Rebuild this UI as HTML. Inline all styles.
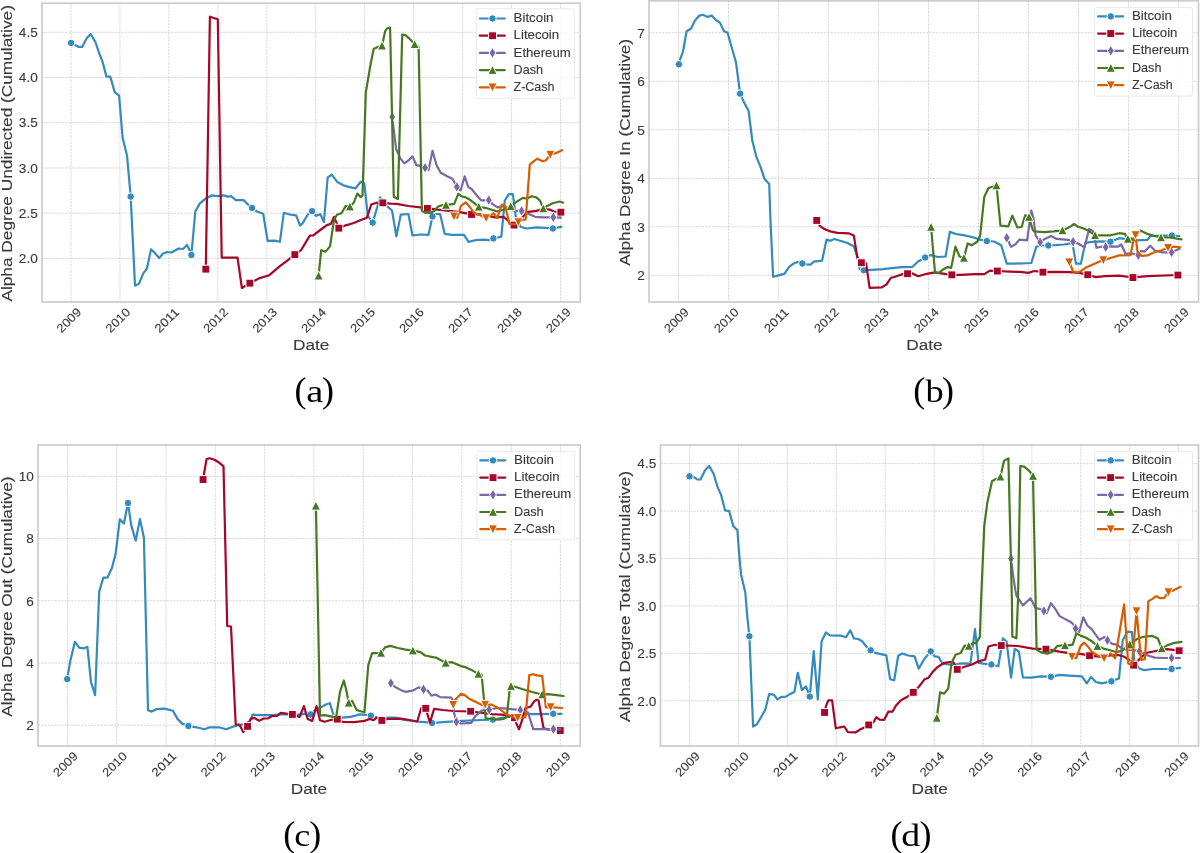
<!DOCTYPE html>
<html><head><meta charset="utf-8"><style>
html,body{margin:0;padding:0;background:#fff;width:1200px;height:853px;overflow:hidden}
svg{display:block;will-change:transform}
.g{stroke:#d4d4d4;stroke-width:0.9;stroke-dasharray:2.3 1}
.t,.xt{font-family:"Liberation Sans", sans-serif;fill:#3a3a3a;stroke:#3a3a3a;stroke-width:0.12}
.t{font-size:13.09px}
.xt{font-size:12.08px}
.l{font-family:"Liberation Sans", sans-serif;font-size:15.25px;fill:#3a3a3a;stroke:#3a3a3a;stroke-width:0.12}
.lg{font-family:"Liberation Sans", sans-serif;font-size:12.57px;fill:#3a3a3a;stroke:#3a3a3a;stroke-width:0.12}
.c{font-family:"Liberation Serif", serif;font-size:36px;fill:#000}
</style></head><body>
<svg width="1200" height="853" viewBox="0 0 1200 853">
<rect width="1200" height="853" fill="#fff"/>
<rect x="42" y="3.2" width="538.25" height="298.80" fill="#fff"/>
<line x1="71.00" y1="3.2" x2="71.00" y2="302" class="g"/>
<line x1="119.92" y1="3.2" x2="119.92" y2="302" class="g"/>
<line x1="168.85" y1="3.2" x2="168.85" y2="302" class="g"/>
<line x1="217.77" y1="3.2" x2="217.77" y2="302" class="g"/>
<line x1="266.83" y1="3.2" x2="266.83" y2="302" class="g"/>
<line x1="315.75" y1="3.2" x2="315.75" y2="302" class="g"/>
<line x1="364.67" y1="3.2" x2="364.67" y2="302" class="g"/>
<line x1="413.60" y1="3.2" x2="413.60" y2="302" class="g"/>
<line x1="462.65" y1="3.2" x2="462.65" y2="302" class="g"/>
<line x1="511.58" y1="3.2" x2="511.58" y2="302" class="g"/>
<line x1="560.50" y1="3.2" x2="560.50" y2="302" class="g"/>
<line x1="42" y1="258.40" x2="580.25" y2="258.40" class="g"/>
<line x1="42" y1="213.18" x2="580.25" y2="213.18" class="g"/>
<line x1="42" y1="167.96" x2="580.25" y2="167.96" class="g"/>
<line x1="42" y1="122.74" x2="580.25" y2="122.74" class="g"/>
<line x1="42" y1="77.52" x2="580.25" y2="77.52" class="g"/>
<line x1="42" y1="32.30" x2="580.25" y2="32.30" class="g"/>
<polyline points="71.1,42.9 76.0,45.5 78.7,46.9 82.2,46.9 86.6,38.5 90.6,34.1 95.4,42.0 98.9,52.5 102.4,61.3 106.5,76.6 110.3,76.6 114.7,92.1 119.1,95.6 122.6,137.8 127.0,155.4 130.7,196.6 135.0,285.7 139.0,283.6 143.4,273.1 146.9,268.7 151.0,249.3 154.8,252.9 159.2,258.1 162.8,253.7 167.1,252.0 171.5,252.5 178.6,248.5 183.0,249.0 187.0,245.0 190.0,251.1 191.4,255.0 195.3,211.5 199.7,203.6 205.8,198.4 211.6,195.4 217.3,196.2 223.4,195.4 227.8,196.6 231.3,196.2 235.7,200.1 243.6,200.1 248.0,204.5 252.1,208.0 257.0,211.5 263.2,213.7 267.6,240.9 274.6,240.6 279.9,241.8 283.8,212.8 289.6,214.5 296.1,215.4 300.1,225.6 302.8,223.0 308.0,214.2 312.1,211.2 315.9,215.9 320.3,214.2 323.9,222.1 327.7,177.3 331.8,174.6 337.0,181.7 343.2,185.2 348.5,186.9 355.5,188.3 360.8,181.7 364.3,183.4 367.8,215.9 372.7,222.6 380.1,197.5 387.2,206.3 392.0,210.5 396.4,236.3 400.8,214.6 408.4,214.0 412.5,235.5 420.2,234.5 428.4,234.9 432.5,216.4 435.4,214.0 440.1,214.0 444.7,233.8 451.7,234.9 463.9,234.9 468.6,241.9 475.0,240.2 484.3,239.6 489.0,240.2 493.4,238.4 498.3,237.3 501.3,236.7 504.8,200.5 508.8,194.1 512.9,194.1 515.8,216.8 520.5,226.8 526.3,228.5 536.8,227.3 545.0,227.9 552.9,228.5 561.3,226.8" fill="none" stroke="#348ABD" stroke-width="2.2" stroke-linejoin="round" stroke-linecap="round"/>
<circle cx="71.1" cy="42.9" r="3.75" fill="#348ABD" stroke="#fff" stroke-width="1"/>
<circle cx="130.7" cy="196.6" r="3.75" fill="#348ABD" stroke="#fff" stroke-width="1"/>
<circle cx="191.4" cy="255.0" r="3.75" fill="#348ABD" stroke="#fff" stroke-width="1"/>
<circle cx="252.1" cy="208.0" r="3.75" fill="#348ABD" stroke="#fff" stroke-width="1"/>
<circle cx="312.1" cy="211.2" r="3.75" fill="#348ABD" stroke="#fff" stroke-width="1"/>
<circle cx="372.7" cy="222.6" r="3.75" fill="#348ABD" stroke="#fff" stroke-width="1"/>
<circle cx="432.5" cy="216.4" r="3.75" fill="#348ABD" stroke="#fff" stroke-width="1"/>
<circle cx="493.4" cy="238.4" r="3.75" fill="#348ABD" stroke="#fff" stroke-width="1"/>
<circle cx="552.9" cy="228.5" r="3.75" fill="#348ABD" stroke="#fff" stroke-width="1"/>
<polyline points="205.8,269.2 209.9,16.7 217.8,19.3 221.7,257.6 237.5,257.6 241.9,288.0 249.8,283.1 258.8,278.4 269.3,275.2 279.9,266.1 286.9,260.8 294.8,254.6 301.0,250.2 309.8,235.6 313.3,235.3 320.3,230.0 326.5,225.3 330.9,223.9 334.1,216.8 338.8,228.2 345.0,225.6 353.7,223.0 359.0,220.7 366.9,217.7 371.3,204.5 376.6,202.8 382.8,202.8 390.7,203.6 396.7,203.9 408.4,206.0 420.2,207.4 427.4,208.3 437.8,209.7 449.5,210.9 461.2,212.3 471.5,214.4 480.0,214.4 487.0,215.6 495.2,217.3 503.4,216.8 509.3,221.4 514.0,225.0 519.9,220.3 526.9,212.1 536.3,210.9 543.3,209.1 550.3,209.7 553.9,211.5 560.9,212.1" fill="none" stroke="#A60628" stroke-width="2.2" stroke-linejoin="round" stroke-linecap="round"/>
<rect x="201.9" y="265.2" width="7.9" height="7.9" fill="#A60628" stroke="#fff" stroke-width="1"/>
<rect x="245.9" y="279.2" width="7.9" height="7.9" fill="#A60628" stroke="#fff" stroke-width="1"/>
<rect x="290.9" y="250.7" width="7.9" height="7.9" fill="#A60628" stroke="#fff" stroke-width="1"/>
<rect x="334.9" y="224.2" width="7.9" height="7.9" fill="#A60628" stroke="#fff" stroke-width="1"/>
<rect x="378.9" y="198.9" width="7.9" height="7.9" fill="#A60628" stroke="#fff" stroke-width="1"/>
<rect x="423.4" y="204.4" width="7.9" height="7.9" fill="#A60628" stroke="#fff" stroke-width="1"/>
<rect x="467.6" y="210.5" width="7.9" height="7.9" fill="#A60628" stroke="#fff" stroke-width="1"/>
<rect x="510.1" y="221.1" width="7.9" height="7.9" fill="#A60628" stroke="#fff" stroke-width="1"/>
<rect x="556.9" y="208.2" width="7.9" height="7.9" fill="#A60628" stroke="#fff" stroke-width="1"/>
<polyline points="392.2,116.9 396.1,148.8 400.2,158.1 404.3,163.4 408.4,160.5 412.5,156.4 416.4,165.2 420.2,165.8 425.1,167.7 428.6,169.9 432.5,150.9 436.6,165.2 440.7,172.8 447.1,176.3 452.4,178.7 456.9,186.9 460.6,190.4 464.7,176.3 468.2,186.9 471.8,189.2 476.4,195.1 481.1,200.3 483.5,200.3 488.8,200.1 492.9,204.4 497.6,207.4 503.4,206.2 510.5,209.7 515.2,210.9 521.6,210.9 526.9,213.2 535.1,216.8 543.3,217.3 553.3,217.3 560.9,217.7" fill="none" stroke="#7A68A6" stroke-width="2.2" stroke-linejoin="round" stroke-linecap="round"/>
<polygon points="392.2,111.4 395.6,116.9 392.2,122.4 388.8,116.9" fill="#7A68A6" stroke="#fff" stroke-width="1"/>
<polygon points="425.1,162.2 428.5,167.7 425.1,173.2 421.7,167.7" fill="#7A68A6" stroke="#fff" stroke-width="1"/>
<polygon points="456.9,181.4 460.3,186.9 456.9,192.4 453.5,186.9" fill="#7A68A6" stroke="#fff" stroke-width="1"/>
<polygon points="488.8,194.6 492.2,200.1 488.8,205.6 485.4,200.1" fill="#7A68A6" stroke="#fff" stroke-width="1"/>
<polygon points="521.6,205.4 525.0,210.9 521.6,216.4 518.2,210.9" fill="#7A68A6" stroke="#fff" stroke-width="1"/>
<polygon points="553.3,211.8 556.7,217.3 553.3,222.8 549.9,217.3" fill="#7A68A6" stroke="#fff" stroke-width="1"/>
<polyline points="318.6,275.7 321.2,250.2 325.6,251.6 330.0,246.4 334.1,219.5 337.0,214.7 341.4,213.3 345.8,205.9 349.9,206.6 353.7,202.8 357.3,193.6 360.8,197.1 362.5,195.7 365.8,92.6 370.2,66.3 373.7,48.7 378.1,46.9 382.0,45.7 385.2,31.1 386.9,28.5 390.1,27.6 393.8,196.8 397.9,198.9 402.2,34.6 405.4,35.1 409.8,39.0 414.7,44.3 418.6,46.9 421.9,210.9 424.9,212.6 430.7,213.0 434.2,210.9 437.8,206.8 442.4,205.0 446.0,205.0 450.7,204.4 454.2,203.9 458.3,193.9 461.2,196.2 465.9,197.4 470.6,200.3 475.3,203.9 478.8,206.8 485.9,208.0 491.7,209.7 497.6,211.5 503.4,209.7 510.7,206.2 515.2,202.7 522.8,197.8 526.9,198.6 531.6,196.2 536.3,197.4 539.8,200.3 543.3,208.5 546.8,206.2 552.7,203.3 559.7,201.5 563.2,202.7" fill="none" stroke="#467821" stroke-width="2.2" stroke-linejoin="round" stroke-linecap="round"/>
<polygon points="318.6,270.9 323.2,280.0 314.0,280.0" fill="#467821" stroke="#fff" stroke-width="1"/>
<polygon points="349.9,201.8 354.5,210.9 345.3,210.9" fill="#467821" stroke="#fff" stroke-width="1"/>
<polygon points="382.0,40.9 386.6,50.0 377.4,50.0" fill="#467821" stroke="#fff" stroke-width="1"/>
<polygon points="414.7,39.5 419.3,48.6 410.1,48.6" fill="#467821" stroke="#fff" stroke-width="1"/>
<polygon points="446.0,200.2 450.6,209.3 441.4,209.3" fill="#467821" stroke="#fff" stroke-width="1"/>
<polygon points="478.8,202.0 483.4,211.1 474.2,211.1" fill="#467821" stroke="#fff" stroke-width="1"/>
<polygon points="510.7,201.4 515.3,210.5 506.1,210.5" fill="#467821" stroke="#fff" stroke-width="1"/>
<polygon points="543.3,203.7 547.9,212.8 538.7,212.8" fill="#467821" stroke="#fff" stroke-width="1"/>
<polyline points="454.0,216.3 457.3,217.8 461.0,205.8 465.7,202.3 470.3,207.5 473.8,212.8 478.5,214.5 486.1,218.0 490.8,215.1 493.7,213.3 497.2,218.0 501.8,204.6 505.3,206.3 509.4,223.8 514.7,224.4 518.4,222.1 521.0,220.3 525.7,219.3 529.8,164.6 533.9,161.1 537.4,158.7 542.1,161.1 545.7,160.5 550.3,154.6 555.0,153.4 562.1,150.2" fill="none" stroke="#D55E00" stroke-width="2.2" stroke-linejoin="round" stroke-linecap="round"/>
<polygon points="454.0,221.1 458.6,212.0 449.4,212.0" fill="#D55E00" stroke="#fff" stroke-width="1"/>
<polygon points="486.1,222.8 490.7,213.7 481.5,213.7" fill="#D55E00" stroke="#fff" stroke-width="1"/>
<polygon points="518.4,226.9 523.0,217.8 513.8,217.8" fill="#D55E00" stroke="#fff" stroke-width="1"/>
<polygon points="550.3,159.4 554.9,150.3 545.7,150.3" fill="#D55E00" stroke="#fff" stroke-width="1"/>
<rect x="42" y="3.2" width="538.25" height="298.80" fill="none" stroke="#cccccc" stroke-width="1.7"/>
<text x="37.80" y="263.10" text-anchor="end" class="t" textLength="18.92" lengthAdjust="spacingAndGlyphs">2.0</text>
<text x="37.80" y="217.88" text-anchor="end" class="t" textLength="18.92" lengthAdjust="spacingAndGlyphs">2.5</text>
<text x="37.80" y="172.66" text-anchor="end" class="t" textLength="18.92" lengthAdjust="spacingAndGlyphs">3.0</text>
<text x="37.80" y="127.44" text-anchor="end" class="t" textLength="18.92" lengthAdjust="spacingAndGlyphs">3.5</text>
<text x="37.80" y="82.22" text-anchor="end" class="t" textLength="18.92" lengthAdjust="spacingAndGlyphs">4.0</text>
<text x="37.80" y="37.00" text-anchor="end" class="t" textLength="18.92" lengthAdjust="spacingAndGlyphs">4.5</text>
<text x="68.90" y="324.36" text-anchor="middle" class="xt" textLength="29.01" lengthAdjust="spacingAndGlyphs" transform="rotate(-45 68.90 320.20)">2009</text>
<text x="117.82" y="324.36" text-anchor="middle" class="xt" textLength="29.01" lengthAdjust="spacingAndGlyphs" transform="rotate(-45 117.82 320.20)">2010</text>
<text x="166.75" y="324.36" text-anchor="middle" class="xt" textLength="29.01" lengthAdjust="spacingAndGlyphs" transform="rotate(-45 166.75 320.20)">2011</text>
<text x="215.67" y="324.36" text-anchor="middle" class="xt" textLength="29.01" lengthAdjust="spacingAndGlyphs" transform="rotate(-45 215.67 320.20)">2012</text>
<text x="264.73" y="324.36" text-anchor="middle" class="xt" textLength="29.01" lengthAdjust="spacingAndGlyphs" transform="rotate(-45 264.73 320.20)">2013</text>
<text x="313.65" y="324.36" text-anchor="middle" class="xt" textLength="29.01" lengthAdjust="spacingAndGlyphs" transform="rotate(-45 313.65 320.20)">2014</text>
<text x="362.57" y="324.36" text-anchor="middle" class="xt" textLength="29.01" lengthAdjust="spacingAndGlyphs" transform="rotate(-45 362.57 320.20)">2015</text>
<text x="411.50" y="324.36" text-anchor="middle" class="xt" textLength="29.01" lengthAdjust="spacingAndGlyphs" transform="rotate(-45 411.50 320.20)">2016</text>
<text x="460.55" y="324.36" text-anchor="middle" class="xt" textLength="29.01" lengthAdjust="spacingAndGlyphs" transform="rotate(-45 460.55 320.20)">2017</text>
<text x="509.48" y="324.36" text-anchor="middle" class="xt" textLength="29.01" lengthAdjust="spacingAndGlyphs" transform="rotate(-45 509.48 320.20)">2018</text>
<text x="558.40" y="324.36" text-anchor="middle" class="xt" textLength="29.01" lengthAdjust="spacingAndGlyphs" transform="rotate(-45 558.40 320.20)">2019</text>
<text x="311.25" y="349.90" text-anchor="middle" class="l" textLength="36.45" lengthAdjust="spacingAndGlyphs">Date</text>
<text x="12.00" y="153.35" text-anchor="middle" class="l" textLength="296.50" lengthAdjust="spacingAndGlyphs" transform="rotate(-90 12.00 153.35)">Alpha Degree Undirected (Cumulative)</text>
<rect x="476.4" y="8.8" width="97.9" height="89.4" rx="1.8" fill="#ffffff" fill-opacity="0.8" stroke="#e6e6e6" stroke-width="0.9"/>
<line x1="479.8" y1="18.5" x2="504.8" y2="18.5" stroke="#348ABD" stroke-width="2.2" stroke-linecap="round"/>
<circle cx="492.5" cy="18.5" r="3.75" fill="#348ABD" stroke="#fff" stroke-width="1"/>
<text x="513.60" y="22.10" text-anchor="start" class="lg" textLength="39.92" lengthAdjust="spacingAndGlyphs">Bitcoin</text>
<line x1="479.8" y1="35.7" x2="504.8" y2="35.7" stroke="#A60628" stroke-width="2.2" stroke-linecap="round"/>
<rect x="488.6" y="31.8" width="7.9" height="7.9" fill="#A60628" stroke="#fff" stroke-width="1"/>
<text x="513.60" y="39.30" text-anchor="start" class="lg" textLength="45.58" lengthAdjust="spacingAndGlyphs">Litecoin</text>
<line x1="479.8" y1="52.9" x2="504.8" y2="52.9" stroke="#7A68A6" stroke-width="2.2" stroke-linecap="round"/>
<polygon points="492.5,47.4 495.9,52.9 492.5,58.4 489.1,52.9" fill="#7A68A6" stroke="#fff" stroke-width="1"/>
<text x="513.60" y="56.50" text-anchor="start" class="lg" textLength="57.12" lengthAdjust="spacingAndGlyphs">Ethereum</text>
<line x1="479.8" y1="70.1" x2="504.8" y2="70.1" stroke="#467821" stroke-width="2.2" stroke-linecap="round"/>
<polygon points="492.5,65.3 497.1,74.4 487.9,74.4" fill="#467821" stroke="#fff" stroke-width="1"/>
<text x="513.60" y="73.70" text-anchor="start" class="lg" textLength="29.54" lengthAdjust="spacingAndGlyphs">Dash</text>
<line x1="479.8" y1="87.3" x2="504.8" y2="87.3" stroke="#D55E00" stroke-width="2.2" stroke-linecap="round"/>
<polygon points="492.5,92.1 497.1,83.0 487.9,83.0" fill="#D55E00" stroke="#fff" stroke-width="1"/>
<text x="513.60" y="90.90" text-anchor="start" class="lg" textLength="40.88" lengthAdjust="spacingAndGlyphs">Z-Cash</text>
<text x="294.42" y="401.86" class="c">(</text>
<text x="322.10" y="401.86" class="c">)</text>
<text transform="translate(314.70 401.86) scale(1.184 1)" text-anchor="middle" class="c" style="font-size:32.5px">a</text>
<rect x="649" y="0.8" width="549.50" height="301.20" fill="#fff"/>
<line x1="678.50" y1="0.8" x2="678.50" y2="302" class="g"/>
<line x1="728.47" y1="0.8" x2="728.47" y2="302" class="g"/>
<line x1="778.45" y1="0.8" x2="778.45" y2="302" class="g"/>
<line x1="828.42" y1="0.8" x2="828.42" y2="302" class="g"/>
<line x1="878.53" y1="0.8" x2="878.53" y2="302" class="g"/>
<line x1="928.50" y1="0.8" x2="928.50" y2="302" class="g"/>
<line x1="978.47" y1="0.8" x2="978.47" y2="302" class="g"/>
<line x1="1028.45" y1="0.8" x2="1028.45" y2="302" class="g"/>
<line x1="1078.55" y1="0.8" x2="1078.55" y2="302" class="g"/>
<line x1="1128.53" y1="0.8" x2="1128.53" y2="302" class="g"/>
<line x1="1178.50" y1="0.8" x2="1178.50" y2="302" class="g"/>
<line x1="649" y1="275.30" x2="1198.5" y2="275.30" class="g"/>
<line x1="649" y1="226.80" x2="1198.5" y2="226.80" class="g"/>
<line x1="649" y1="178.30" x2="1198.5" y2="178.30" class="g"/>
<line x1="649" y1="129.80" x2="1198.5" y2="129.80" class="g"/>
<line x1="649" y1="81.30" x2="1198.5" y2="81.30" class="g"/>
<line x1="649" y1="32.80" x2="1198.5" y2="32.80" class="g"/>
<polyline points="678.9,64.3 680.5,58.3 683.0,51.7 686.6,31.2 690.9,28.7 695.0,20.5 699.4,15.6 703.0,14.8 707.6,16.9 711.7,15.6 715.8,20.0 719.9,22.6 724.0,31.2 727.6,32.8 732.2,49.2 736.0,62.4 740.1,93.6 744.5,103.4 748.6,110.8 752.3,140.5 756.4,156.9 760.5,166.8 764.6,179.1 769.2,184.0 770.4,218.5 773.1,276.8 777.6,275.6 784.6,273.6 789.3,266.6 794.0,263.3 798.1,261.9 802.4,263.5 806.9,264.3 810.4,264.7 813.9,261.6 822.1,260.7 826.5,239.6 830.3,240.8 834.5,239.0 840.9,241.0 846.8,242.8 853.8,246.3 857.3,256.3 859.7,269.2 863.8,270.3 867.9,270.1 883.1,269.2 901.3,267.1 912.5,266.8 918.1,261.5 925.2,257.5 930.8,255.1 937.8,257.0 945.6,256.5 949.8,231.9 956.1,234.0 964.6,235.4 973.0,237.3 980.1,239.6 986.8,241.1 994.1,241.5 1001.2,245.3 1006.8,263.6 1013.8,263.6 1031.3,263.0 1036.3,246.7 1041.2,245.5 1048.3,245.5 1055.4,245.2 1063.9,244.5 1072.4,243.1 1076.0,263.7 1080.9,263.7 1085.2,243.1 1089.4,242.1 1099.3,241.3 1110.4,241.7 1119.2,238.2 1124.8,238.9 1136.2,240.3 1147.5,239.9 1150.3,236.0 1161.7,235.6 1171.9,235.6 1179.4,236.0" fill="none" stroke="#348ABD" stroke-width="2.2" stroke-linejoin="round" stroke-linecap="round"/>
<circle cx="678.9" cy="64.3" r="3.75" fill="#348ABD" stroke="#fff" stroke-width="1"/>
<circle cx="740.1" cy="93.6" r="3.75" fill="#348ABD" stroke="#fff" stroke-width="1"/>
<circle cx="802.4" cy="263.5" r="3.75" fill="#348ABD" stroke="#fff" stroke-width="1"/>
<circle cx="863.8" cy="270.3" r="3.75" fill="#348ABD" stroke="#fff" stroke-width="1"/>
<circle cx="925.2" cy="257.5" r="3.75" fill="#348ABD" stroke="#fff" stroke-width="1"/>
<circle cx="986.8" cy="241.1" r="3.75" fill="#348ABD" stroke="#fff" stroke-width="1"/>
<circle cx="1048.3" cy="245.5" r="3.75" fill="#348ABD" stroke="#fff" stroke-width="1"/>
<circle cx="1110.4" cy="241.7" r="3.75" fill="#348ABD" stroke="#fff" stroke-width="1"/>
<circle cx="1171.9" cy="235.6" r="3.75" fill="#348ABD" stroke="#fff" stroke-width="1"/>
<polyline points="816.8,220.4 819.8,225.8 824.5,229.1 830.3,231.4 837.4,232.8 849.1,233.4 853.8,235.4 857.3,257.5 861.4,262.7 866.1,263.3 869.6,287.9 881.9,287.3 886.6,284.4 890.7,278.0 894.8,276.8 902.7,274.1 907.6,273.7 912.5,273.4 918.1,276.2 926.6,273.8 935.0,272.4 946.3,274.1 951.9,274.8 960.4,274.8 974.4,274.1 984.3,274.1 989.9,270.6 997.4,271.0 1009.6,271.6 1020.0,271.9 1028.5,272.9 1034.2,271.0 1043.0,272.2 1055.4,271.9 1069.6,272.2 1079.5,272.9 1087.7,274.7 1095.8,277.1 1105.0,276.1 1119.2,275.7 1133.0,277.5 1147.5,276.1 1178.0,275.0" fill="none" stroke="#A60628" stroke-width="2.2" stroke-linejoin="round" stroke-linecap="round"/>
<rect x="812.8" y="216.5" width="7.9" height="7.9" fill="#A60628" stroke="#fff" stroke-width="1"/>
<rect x="857.4" y="258.8" width="7.9" height="7.9" fill="#A60628" stroke="#fff" stroke-width="1"/>
<rect x="903.6" y="269.8" width="7.9" height="7.9" fill="#A60628" stroke="#fff" stroke-width="1"/>
<rect x="947.9" y="270.9" width="7.9" height="7.9" fill="#A60628" stroke="#fff" stroke-width="1"/>
<rect x="993.4" y="267.1" width="7.9" height="7.9" fill="#A60628" stroke="#fff" stroke-width="1"/>
<rect x="1039.0" y="268.2" width="7.9" height="7.9" fill="#A60628" stroke="#fff" stroke-width="1"/>
<rect x="1083.8" y="270.8" width="7.9" height="7.9" fill="#A60628" stroke="#fff" stroke-width="1"/>
<rect x="1129.0" y="273.6" width="7.9" height="7.9" fill="#A60628" stroke="#fff" stroke-width="1"/>
<rect x="1174.0" y="271.1" width="7.9" height="7.9" fill="#A60628" stroke="#fff" stroke-width="1"/>
<polyline points="1006.8,237.8 1011.0,246.7 1015.2,244.6 1019.4,239.6 1027.1,240.3 1031.3,210.5 1033.5,218.3 1035.6,235.3 1040.1,242.1 1044.8,238.9 1051.2,236.0 1056.8,238.9 1068.2,239.9 1073.1,241.7 1078.1,243.5 1084.5,247.4 1089.1,229.0 1093.0,231.1 1096.5,247.8 1101.5,246.7 1105.7,247.1 1110.7,246.4 1117.7,246.7 1121.3,244.5 1125.5,253.7 1133.3,253.7 1138.3,255.2 1141.1,250.9 1144.7,251.6 1150.3,245.7 1155.3,250.9 1161.7,252.3 1171.6,252.3 1179.4,248.8" fill="none" stroke="#7A68A6" stroke-width="2.2" stroke-linejoin="round" stroke-linecap="round"/>
<polygon points="1006.8,232.3 1010.2,237.8 1006.8,243.3 1003.4,237.8" fill="#7A68A6" stroke="#fff" stroke-width="1"/>
<polygon points="1040.1,236.6 1043.5,242.1 1040.1,247.6 1036.7,242.1" fill="#7A68A6" stroke="#fff" stroke-width="1"/>
<polygon points="1073.1,236.2 1076.5,241.7 1073.1,247.2 1069.7,241.7" fill="#7A68A6" stroke="#fff" stroke-width="1"/>
<polygon points="1105.7,241.6 1109.1,247.1 1105.7,252.6 1102.3,247.1" fill="#7A68A6" stroke="#fff" stroke-width="1"/>
<polygon points="1138.3,249.7 1141.7,255.2 1138.3,260.7 1134.9,255.2" fill="#7A68A6" stroke="#fff" stroke-width="1"/>
<polygon points="1171.6,246.8 1175.0,252.3 1171.6,257.8 1168.2,252.3" fill="#7A68A6" stroke="#fff" stroke-width="1"/>
<polyline points="931.1,227.0 935.0,272.4 938.5,273.1 943.5,269.2 947.7,267.1 951.2,267.8 955.4,246.7 959.6,256.5 963.9,257.9 967.7,243.4 971.6,245.3 977.2,241.8 980.1,236.1 984.3,196.7 988.5,188.0 996.5,185.5 1000.5,225.6 1008.2,226.3 1012.4,215.7 1017.3,227.4 1021.6,227.0 1025.1,215.3 1029.0,217.0 1032.7,229.7 1034.2,231.4 1044.1,232.2 1054.0,231.4 1062.5,230.4 1069.6,227.1 1074.1,224.0 1078.1,226.8 1083.7,228.5 1088.0,230.4 1095.1,235.3 1102.2,235.3 1110.7,235.3 1119.2,233.2 1124.8,233.9 1127.9,238.9 1134.7,238.4 1140.4,230.4 1147.5,233.9 1154.6,236.0 1161.0,237.5 1170.2,237.5 1181.5,239.3" fill="none" stroke="#467821" stroke-width="2.2" stroke-linejoin="round" stroke-linecap="round"/>
<polygon points="931.1,222.2 935.7,231.3 926.5,231.3" fill="#467821" stroke="#fff" stroke-width="1"/>
<polygon points="963.9,253.1 968.5,262.2 959.3,262.2" fill="#467821" stroke="#fff" stroke-width="1"/>
<polygon points="996.5,180.7 1001.1,189.8 991.9,189.8" fill="#467821" stroke="#fff" stroke-width="1"/>
<polygon points="1029.0,212.2 1033.6,221.3 1024.4,221.3" fill="#467821" stroke="#fff" stroke-width="1"/>
<polygon points="1062.5,225.6 1067.1,234.7 1057.9,234.7" fill="#467821" stroke="#fff" stroke-width="1"/>
<polygon points="1095.1,230.5 1099.7,239.6 1090.5,239.6" fill="#467821" stroke="#fff" stroke-width="1"/>
<polygon points="1127.9,234.1 1132.5,243.2 1123.3,243.2" fill="#467821" stroke="#fff" stroke-width="1"/>
<polygon points="1161.0,232.7 1165.6,241.8 1156.4,241.8" fill="#467821" stroke="#fff" stroke-width="1"/>
<polyline points="1069.3,262.2 1073.1,271.5 1078.1,272.2 1080.9,271.0 1086.6,267.2 1095.1,263.4 1103.3,260.1 1110.7,258.0 1119.2,255.4 1130.5,255.2 1133.3,241.0 1135.5,235.0 1137.6,252.3 1141.8,255.9 1147.5,255.4 1156.0,251.6 1161.7,250.2 1168.0,247.8 1174.4,246.7 1180.1,247.4" fill="none" stroke="#D55E00" stroke-width="2.2" stroke-linejoin="round" stroke-linecap="round"/>
<polygon points="1069.3,267.0 1073.9,257.9 1064.7,257.9" fill="#D55E00" stroke="#fff" stroke-width="1"/>
<polygon points="1103.3,264.9 1107.9,255.8 1098.7,255.8" fill="#D55E00" stroke="#fff" stroke-width="1"/>
<polygon points="1135.5,239.8 1140.1,230.7 1130.9,230.7" fill="#D55E00" stroke="#fff" stroke-width="1"/>
<polygon points="1168.0,252.6 1172.6,243.5 1163.4,243.5" fill="#D55E00" stroke="#fff" stroke-width="1"/>
<rect x="649" y="0.8" width="549.50" height="301.20" fill="none" stroke="#cccccc" stroke-width="1.7"/>
<text x="644.80" y="280.00" text-anchor="end" class="t" textLength="7.57" lengthAdjust="spacingAndGlyphs">2</text>
<text x="644.80" y="231.50" text-anchor="end" class="t" textLength="7.57" lengthAdjust="spacingAndGlyphs">3</text>
<text x="644.80" y="183.00" text-anchor="end" class="t" textLength="7.57" lengthAdjust="spacingAndGlyphs">4</text>
<text x="644.80" y="134.50" text-anchor="end" class="t" textLength="7.57" lengthAdjust="spacingAndGlyphs">5</text>
<text x="644.80" y="86.00" text-anchor="end" class="t" textLength="7.57" lengthAdjust="spacingAndGlyphs">6</text>
<text x="644.80" y="37.50" text-anchor="end" class="t" textLength="7.57" lengthAdjust="spacingAndGlyphs">7</text>
<text x="676.40" y="324.36" text-anchor="middle" class="xt" textLength="29.01" lengthAdjust="spacingAndGlyphs" transform="rotate(-45 676.40 320.20)">2009</text>
<text x="726.37" y="324.36" text-anchor="middle" class="xt" textLength="29.01" lengthAdjust="spacingAndGlyphs" transform="rotate(-45 726.37 320.20)">2010</text>
<text x="776.35" y="324.36" text-anchor="middle" class="xt" textLength="29.01" lengthAdjust="spacingAndGlyphs" transform="rotate(-45 776.35 320.20)">2011</text>
<text x="826.32" y="324.36" text-anchor="middle" class="xt" textLength="29.01" lengthAdjust="spacingAndGlyphs" transform="rotate(-45 826.32 320.20)">2012</text>
<text x="876.43" y="324.36" text-anchor="middle" class="xt" textLength="29.01" lengthAdjust="spacingAndGlyphs" transform="rotate(-45 876.43 320.20)">2013</text>
<text x="926.40" y="324.36" text-anchor="middle" class="xt" textLength="29.01" lengthAdjust="spacingAndGlyphs" transform="rotate(-45 926.40 320.20)">2014</text>
<text x="976.37" y="324.36" text-anchor="middle" class="xt" textLength="29.01" lengthAdjust="spacingAndGlyphs" transform="rotate(-45 976.37 320.20)">2015</text>
<text x="1026.35" y="324.36" text-anchor="middle" class="xt" textLength="29.01" lengthAdjust="spacingAndGlyphs" transform="rotate(-45 1026.35 320.20)">2016</text>
<text x="1076.45" y="324.36" text-anchor="middle" class="xt" textLength="29.01" lengthAdjust="spacingAndGlyphs" transform="rotate(-45 1076.45 320.20)">2017</text>
<text x="1126.43" y="324.36" text-anchor="middle" class="xt" textLength="29.01" lengthAdjust="spacingAndGlyphs" transform="rotate(-45 1126.43 320.20)">2018</text>
<text x="1176.40" y="324.36" text-anchor="middle" class="xt" textLength="29.01" lengthAdjust="spacingAndGlyphs" transform="rotate(-45 1176.40 320.20)">2019</text>
<text x="924.40" y="350.00" text-anchor="middle" class="l" textLength="36.45" lengthAdjust="spacingAndGlyphs">Date</text>
<text x="630.30" y="152.35" text-anchor="middle" class="l" textLength="226.84" lengthAdjust="spacingAndGlyphs" transform="rotate(-90 630.30 152.35)">Alpha Degree In (Cumulative)</text>
<rect x="1094.7" y="7.6" width="97.8" height="88.5" rx="1.8" fill="#ffffff" fill-opacity="0.8" stroke="#e6e6e6" stroke-width="0.9"/>
<line x1="1098.1" y1="16.4" x2="1123.1" y2="16.4" stroke="#348ABD" stroke-width="2.2" stroke-linecap="round"/>
<circle cx="1110.8" cy="16.4" r="3.75" fill="#348ABD" stroke="#fff" stroke-width="1"/>
<text x="1131.90" y="20.00" text-anchor="start" class="lg" textLength="39.92" lengthAdjust="spacingAndGlyphs">Bitcoin</text>
<line x1="1098.1" y1="33.6" x2="1123.1" y2="33.6" stroke="#A60628" stroke-width="2.2" stroke-linecap="round"/>
<rect x="1106.8" y="29.6" width="7.9" height="7.9" fill="#A60628" stroke="#fff" stroke-width="1"/>
<text x="1131.90" y="37.20" text-anchor="start" class="lg" textLength="45.58" lengthAdjust="spacingAndGlyphs">Litecoin</text>
<line x1="1098.1" y1="50.8" x2="1123.1" y2="50.8" stroke="#7A68A6" stroke-width="2.2" stroke-linecap="round"/>
<polygon points="1110.8,45.3 1114.2,50.8 1110.8,56.3 1107.4,50.8" fill="#7A68A6" stroke="#fff" stroke-width="1"/>
<text x="1131.90" y="54.40" text-anchor="start" class="lg" textLength="57.12" lengthAdjust="spacingAndGlyphs">Ethereum</text>
<line x1="1098.1" y1="68.0" x2="1123.1" y2="68.0" stroke="#467821" stroke-width="2.2" stroke-linecap="round"/>
<polygon points="1110.8,63.2 1115.4,72.3 1106.2,72.3" fill="#467821" stroke="#fff" stroke-width="1"/>
<text x="1131.90" y="71.60" text-anchor="start" class="lg" textLength="29.54" lengthAdjust="spacingAndGlyphs">Dash</text>
<line x1="1098.1" y1="85.2" x2="1123.1" y2="85.2" stroke="#D55E00" stroke-width="2.2" stroke-linecap="round"/>
<polygon points="1110.8,90.0 1115.4,80.9 1106.2,80.9" fill="#D55E00" stroke="#fff" stroke-width="1"/>
<text x="1131.90" y="88.80" text-anchor="start" class="lg" textLength="40.88" lengthAdjust="spacingAndGlyphs">Z-Cash</text>
<text x="913.22" y="401.66" class="c">(</text>
<text x="942.10" y="401.66" class="c">)</text>
<text transform="translate(934.49 401.66) scale(1.119 1)" text-anchor="middle" class="c" style="font-size:32.5px">b</text>
<rect x="38" y="445" width="542.20" height="301.00" fill="#fff"/>
<line x1="67.50" y1="445" x2="67.50" y2="746" class="g"/>
<line x1="116.76" y1="445" x2="116.76" y2="746" class="g"/>
<line x1="166.03" y1="445" x2="166.03" y2="746" class="g"/>
<line x1="215.29" y1="445" x2="215.29" y2="746" class="g"/>
<line x1="264.69" y1="445" x2="264.69" y2="746" class="g"/>
<line x1="313.95" y1="445" x2="313.95" y2="746" class="g"/>
<line x1="363.21" y1="445" x2="363.21" y2="746" class="g"/>
<line x1="412.48" y1="445" x2="412.48" y2="746" class="g"/>
<line x1="461.87" y1="445" x2="461.87" y2="746" class="g"/>
<line x1="511.14" y1="445" x2="511.14" y2="746" class="g"/>
<line x1="560.40" y1="445" x2="560.40" y2="746" class="g"/>
<line x1="38" y1="725.20" x2="580.2" y2="725.20" class="g"/>
<line x1="38" y1="663.00" x2="580.2" y2="663.00" class="g"/>
<line x1="38" y1="600.80" x2="580.2" y2="600.80" class="g"/>
<line x1="38" y1="538.60" x2="580.2" y2="538.60" class="g"/>
<line x1="38" y1="476.40" x2="580.2" y2="476.40" class="g"/>
<polyline points="67.2,679.1 70.5,659.9 74.9,641.9 79.2,647.6 83.6,648.4 87.4,646.8 91.0,682.1 95.1,695.2 97.6,632.8 99.2,591.6 103.3,577.7 107.4,577.7 112.0,567.8 115.6,553.9 119.8,519.4 123.9,523.5 128.0,503.0 131.2,525.1 135.7,540.7 139.9,519.1 143.9,537.4 148.0,710.3 151.8,711.6 156.7,709.1 164.1,708.6 171.4,710.3 172.8,710.5 177.5,718.9 182.2,723.6 188.4,726.0 196.3,727.3 204.7,729.2 209.4,727.3 218.8,727.3 226.3,729.2 233.8,726.4 242.2,724.5 248.8,723.6 252.6,714.7 260.1,715.1 273.2,715.1 282.6,714.2 299.5,714.7 305.2,713.8 310.6,714.4 315.5,709.9 321.3,707.1 325.8,704.5 329.9,703.2 333.5,715.1 337.4,717.7 342.5,717.7 350.3,716.8 355.4,715.7 359.3,714.4 365.7,714.8 370.9,715.7 374.8,717.0 383.8,717.7 396.7,717.7 403.1,719.6 416.0,721.5 425.0,722.2 432.1,723.1 442.9,722.2 462.2,720.9 481.6,720.0 492.9,719.6 504.8,717.4 520.3,715.1 526.7,713.8 539.6,714.1 553.2,713.8 561.6,713.8" fill="none" stroke="#348ABD" stroke-width="2.2" stroke-linejoin="round" stroke-linecap="round"/>
<circle cx="67.2" cy="679.1" r="3.75" fill="#348ABD" stroke="#fff" stroke-width="1"/>
<circle cx="128.0" cy="503.0" r="3.75" fill="#348ABD" stroke="#fff" stroke-width="1"/>
<circle cx="188.4" cy="726.0" r="3.75" fill="#348ABD" stroke="#fff" stroke-width="1"/>
<circle cx="249.0" cy="723.8" r="3.75" fill="#348ABD" stroke="#fff" stroke-width="1"/>
<circle cx="310.6" cy="714.4" r="3.75" fill="#348ABD" stroke="#fff" stroke-width="1"/>
<circle cx="370.9" cy="715.7" r="3.75" fill="#348ABD" stroke="#fff" stroke-width="1"/>
<circle cx="432.1" cy="723.1" r="3.75" fill="#348ABD" stroke="#fff" stroke-width="1"/>
<circle cx="492.9" cy="719.6" r="3.75" fill="#348ABD" stroke="#fff" stroke-width="1"/>
<circle cx="553.2" cy="713.8" r="3.75" fill="#348ABD" stroke="#fff" stroke-width="1"/>
<polyline points="203.0,479.5 206.6,459.0 209.5,458.2 214.5,459.8 219.4,462.8 223.5,466.4 227.2,626.0 231.0,626.5 235.7,724.5 239.4,724.5 243.2,732.0 247.5,726.4 250.7,718.9 254.4,717.9 259.1,720.7 263.8,718.5 267.6,718.5 272.3,716.0 277.0,716.0 280.7,712.9 286.3,713.6 292.3,714.5 299.5,717.0 303.9,706.1 307.7,719.0 312.2,720.9 316.5,706.1 320.0,720.2 324.5,721.8 330.9,720.0 337.4,719.2 342.5,721.8 354.1,722.2 364.5,720.9 369.6,719.0 373.5,720.2 377.3,717.4 381.9,720.5 387.7,719.0 400.6,718.7 409.6,720.0 417.3,721.5 421.2,708.0 425.7,708.4 429.9,722.6 434.1,708.9 442.9,710.0 453.2,711.0 470.6,711.3 479.0,712.5 491.9,714.1 504.8,714.9 513.8,717.7 519.0,729.3 522.9,717.7 525.4,708.0 530.6,706.7 534.5,700.9 538.3,699.0 543.5,728.0 546.1,729.1 560.3,730.6" fill="none" stroke="#A60628" stroke-width="2.2" stroke-linejoin="round" stroke-linecap="round"/>
<rect x="199.1" y="475.6" width="7.9" height="7.9" fill="#A60628" stroke="#fff" stroke-width="1"/>
<rect x="243.6" y="722.4" width="7.9" height="7.9" fill="#A60628" stroke="#fff" stroke-width="1"/>
<rect x="288.4" y="710.5" width="7.9" height="7.9" fill="#A60628" stroke="#fff" stroke-width="1"/>
<rect x="333.4" y="715.2" width="7.9" height="7.9" fill="#A60628" stroke="#fff" stroke-width="1"/>
<rect x="377.9" y="716.5" width="7.9" height="7.9" fill="#A60628" stroke="#fff" stroke-width="1"/>
<rect x="421.8" y="704.4" width="7.9" height="7.9" fill="#A60628" stroke="#fff" stroke-width="1"/>
<rect x="466.7" y="707.3" width="7.9" height="7.9" fill="#A60628" stroke="#fff" stroke-width="1"/>
<rect x="510.6" y="713.8" width="7.9" height="7.9" fill="#A60628" stroke="#fff" stroke-width="1"/>
<rect x="556.3" y="726.6" width="7.9" height="7.9" fill="#A60628" stroke="#fff" stroke-width="1"/>
<polyline points="390.9,683.1 394.8,686.7 400.6,689.9 405.7,691.9 413.4,690.3 418.6,687.4 423.5,689.3 427.6,690.6 431.5,695.7 435.4,694.5 440.3,697.1 451.3,697.7 453.2,700.9 453.9,712.5 456.4,721.8 461.0,723.5 471.3,722.9 475.1,716.4 481.6,710.6 489.1,709.7 497.1,708.0 507.4,708.7 513.8,709.3 520.3,710.0 528.0,712.5 533.2,729.1 542.2,729.1 553.4,729.1 560.3,729.3" fill="none" stroke="#7A68A6" stroke-width="2.2" stroke-linejoin="round" stroke-linecap="round"/>
<polygon points="390.9,677.6 394.3,683.1 390.9,688.6 387.5,683.1" fill="#7A68A6" stroke="#fff" stroke-width="1"/>
<polygon points="423.5,683.8 426.9,689.3 423.5,694.8 420.1,689.3" fill="#7A68A6" stroke="#fff" stroke-width="1"/>
<polygon points="456.4,716.3 459.8,721.8 456.4,727.3 453.0,721.8" fill="#7A68A6" stroke="#fff" stroke-width="1"/>
<polygon points="489.1,704.2 492.5,709.7 489.1,715.2 485.7,709.7" fill="#7A68A6" stroke="#fff" stroke-width="1"/>
<polygon points="520.3,704.5 523.7,710.0 520.3,715.5 516.9,710.0" fill="#7A68A6" stroke="#fff" stroke-width="1"/>
<polygon points="553.4,723.6 556.8,729.1 553.4,734.6 550.0,729.1" fill="#7A68A6" stroke="#fff" stroke-width="1"/>
<polyline points="315.9,505.8 320.0,715.7 324.5,715.1 329.7,716.1 336.1,717.7 340.0,691.9 343.8,680.5 346.4,690.6 348.7,702.8 352.2,700.9 356.7,709.9 360.6,711.2 364.5,712.2 368.3,664.8 372.2,653.2 376.1,653.2 381.0,652.9 385.1,647.4 390.2,645.9 398.0,648.0 405.7,649.6 412.9,650.6 420.5,652.2 425.0,655.5 434.1,657.3 436.4,657.7 445.7,662.9 451.9,662.2 461.0,666.1 466.1,667.4 472.6,670.6 478.4,673.9 481.6,674.5 484.2,702.2 485.7,718.4 491.9,719.0 498.4,719.6 503.5,719.0 506.7,717.1 510.0,686.8 511.0,686.1 515.1,686.8 522.9,689.3 533.2,692.2 542.2,694.5 548.7,694.2 556.4,695.1 563.5,696.0" fill="none" stroke="#467821" stroke-width="2.2" stroke-linejoin="round" stroke-linecap="round"/>
<polygon points="315.9,501.0 320.5,510.1 311.3,510.1" fill="#467821" stroke="#fff" stroke-width="1"/>
<polygon points="348.7,698.0 353.3,707.1 344.1,707.1" fill="#467821" stroke="#fff" stroke-width="1"/>
<polygon points="381.0,648.1 385.6,657.2 376.4,657.2" fill="#467821" stroke="#fff" stroke-width="1"/>
<polygon points="412.9,645.8 417.5,654.9 408.3,654.9" fill="#467821" stroke="#fff" stroke-width="1"/>
<polygon points="445.7,658.1 450.3,667.2 441.1,667.2" fill="#467821" stroke="#fff" stroke-width="1"/>
<polygon points="478.4,669.1 483.0,678.2 473.8,678.2" fill="#467821" stroke="#fff" stroke-width="1"/>
<polygon points="511.0,681.3 515.6,690.4 506.4,690.4" fill="#467821" stroke="#fff" stroke-width="1"/>
<polygon points="542.2,689.7 546.8,698.8 537.6,698.8" fill="#467821" stroke="#fff" stroke-width="1"/>
<polyline points="453.2,704.8 455.2,699.7 461.0,693.8 464.8,695.1 468.7,698.4 473.9,700.9 481.6,704.8 485.2,704.6 491.9,704.6 498.4,708.0 504.8,713.2 512.5,717.1 517.7,717.7 525.4,717.4 529.3,675.1 533.2,674.2 537.1,675.4 542.2,676.2 545.8,707.4 550.6,707.1 562.2,708.0" fill="none" stroke="#D55E00" stroke-width="2.2" stroke-linejoin="round" stroke-linecap="round"/>
<polygon points="453.2,709.6 457.8,700.5 448.6,700.5" fill="#D55E00" stroke="#fff" stroke-width="1"/>
<polygon points="485.2,709.4 489.8,700.3 480.6,700.3" fill="#D55E00" stroke="#fff" stroke-width="1"/>
<polygon points="517.7,722.5 522.3,713.4 513.1,713.4" fill="#D55E00" stroke="#fff" stroke-width="1"/>
<polygon points="550.6,711.9 555.2,702.8 546.0,702.8" fill="#D55E00" stroke="#fff" stroke-width="1"/>
<rect x="38" y="445" width="542.20" height="301.00" fill="none" stroke="#cccccc" stroke-width="1.7"/>
<text x="33.80" y="729.90" text-anchor="end" class="t" textLength="7.57" lengthAdjust="spacingAndGlyphs">2</text>
<text x="33.80" y="667.70" text-anchor="end" class="t" textLength="7.57" lengthAdjust="spacingAndGlyphs">4</text>
<text x="33.80" y="605.50" text-anchor="end" class="t" textLength="7.57" lengthAdjust="spacingAndGlyphs">6</text>
<text x="33.80" y="543.30" text-anchor="end" class="t" textLength="7.57" lengthAdjust="spacingAndGlyphs">8</text>
<text x="33.80" y="481.10" text-anchor="end" class="t" textLength="15.14" lengthAdjust="spacingAndGlyphs">10</text>
<text x="65.40" y="768.36" text-anchor="middle" class="xt" textLength="29.01" lengthAdjust="spacingAndGlyphs" transform="rotate(-45 65.40 764.20)">2009</text>
<text x="114.66" y="768.36" text-anchor="middle" class="xt" textLength="29.01" lengthAdjust="spacingAndGlyphs" transform="rotate(-45 114.66 764.20)">2010</text>
<text x="163.93" y="768.36" text-anchor="middle" class="xt" textLength="29.01" lengthAdjust="spacingAndGlyphs" transform="rotate(-45 163.93 764.20)">2011</text>
<text x="213.19" y="768.36" text-anchor="middle" class="xt" textLength="29.01" lengthAdjust="spacingAndGlyphs" transform="rotate(-45 213.19 764.20)">2012</text>
<text x="262.59" y="768.36" text-anchor="middle" class="xt" textLength="29.01" lengthAdjust="spacingAndGlyphs" transform="rotate(-45 262.59 764.20)">2013</text>
<text x="311.85" y="768.36" text-anchor="middle" class="xt" textLength="29.01" lengthAdjust="spacingAndGlyphs" transform="rotate(-45 311.85 764.20)">2014</text>
<text x="361.11" y="768.36" text-anchor="middle" class="xt" textLength="29.01" lengthAdjust="spacingAndGlyphs" transform="rotate(-45 361.11 764.20)">2015</text>
<text x="410.38" y="768.36" text-anchor="middle" class="xt" textLength="29.01" lengthAdjust="spacingAndGlyphs" transform="rotate(-45 410.38 764.20)">2016</text>
<text x="459.77" y="768.36" text-anchor="middle" class="xt" textLength="29.01" lengthAdjust="spacingAndGlyphs" transform="rotate(-45 459.77 764.20)">2017</text>
<text x="509.04" y="768.36" text-anchor="middle" class="xt" textLength="29.01" lengthAdjust="spacingAndGlyphs" transform="rotate(-45 509.04 764.20)">2018</text>
<text x="558.30" y="768.36" text-anchor="middle" class="xt" textLength="29.01" lengthAdjust="spacingAndGlyphs" transform="rotate(-45 558.30 764.20)">2019</text>
<text x="309.00" y="794.00" text-anchor="middle" class="l" textLength="36.45" lengthAdjust="spacingAndGlyphs">Date</text>
<text x="12.00" y="596.70" text-anchor="middle" class="l" textLength="240.33" lengthAdjust="spacingAndGlyphs" transform="rotate(-90 12.00 596.70)">Alpha Degree Out (Cumulative)</text>
<rect x="476.9" y="451.3" width="97.7" height="88.6" rx="1.8" fill="#ffffff" fill-opacity="0.8" stroke="#e6e6e6" stroke-width="0.9"/>
<line x1="480.3" y1="460.4" x2="505.3" y2="460.4" stroke="#348ABD" stroke-width="2.2" stroke-linecap="round"/>
<circle cx="493.0" cy="460.4" r="3.75" fill="#348ABD" stroke="#fff" stroke-width="1"/>
<text x="514.10" y="464.00" text-anchor="start" class="lg" textLength="39.92" lengthAdjust="spacingAndGlyphs">Bitcoin</text>
<line x1="480.3" y1="477.6" x2="505.3" y2="477.6" stroke="#A60628" stroke-width="2.2" stroke-linecap="round"/>
<rect x="489.1" y="473.7" width="7.9" height="7.9" fill="#A60628" stroke="#fff" stroke-width="1"/>
<text x="514.10" y="481.20" text-anchor="start" class="lg" textLength="45.58" lengthAdjust="spacingAndGlyphs">Litecoin</text>
<line x1="480.3" y1="494.8" x2="505.3" y2="494.8" stroke="#7A68A6" stroke-width="2.2" stroke-linecap="round"/>
<polygon points="493.0,489.3 496.4,494.8 493.0,500.3 489.6,494.8" fill="#7A68A6" stroke="#fff" stroke-width="1"/>
<text x="514.10" y="498.40" text-anchor="start" class="lg" textLength="57.12" lengthAdjust="spacingAndGlyphs">Ethereum</text>
<line x1="480.3" y1="512.0" x2="505.3" y2="512.0" stroke="#467821" stroke-width="2.2" stroke-linecap="round"/>
<polygon points="493.0,507.2 497.6,516.3 488.4,516.3" fill="#467821" stroke="#fff" stroke-width="1"/>
<text x="514.10" y="515.60" text-anchor="start" class="lg" textLength="29.54" lengthAdjust="spacingAndGlyphs">Dash</text>
<line x1="480.3" y1="529.2" x2="505.3" y2="529.2" stroke="#D55E00" stroke-width="2.2" stroke-linecap="round"/>
<polygon points="493.0,534.0 497.6,524.9 488.4,524.9" fill="#D55E00" stroke="#fff" stroke-width="1"/>
<text x="514.10" y="532.80" text-anchor="start" class="lg" textLength="40.88" lengthAdjust="spacingAndGlyphs">Z-Cash</text>
<text x="283.32" y="845.76" class="c">(</text>
<text x="309.30" y="845.76" class="c">)</text>
<text transform="translate(302.32 845.76) scale(1.108 1)" text-anchor="middle" class="c" style="font-size:32.5px">c</text>
<rect x="660.5" y="445" width="538.00" height="301.00" fill="#fff"/>
<line x1="689.60" y1="445" x2="689.60" y2="746" class="g"/>
<line x1="738.47" y1="445" x2="738.47" y2="746" class="g"/>
<line x1="787.35" y1="445" x2="787.35" y2="746" class="g"/>
<line x1="836.22" y1="445" x2="836.22" y2="746" class="g"/>
<line x1="885.23" y1="445" x2="885.23" y2="746" class="g"/>
<line x1="934.10" y1="445" x2="934.10" y2="746" class="g"/>
<line x1="982.97" y1="445" x2="982.97" y2="746" class="g"/>
<line x1="1031.85" y1="445" x2="1031.85" y2="746" class="g"/>
<line x1="1080.85" y1="445" x2="1080.85" y2="746" class="g"/>
<line x1="1129.73" y1="445" x2="1129.73" y2="746" class="g"/>
<line x1="1178.60" y1="445" x2="1178.60" y2="746" class="g"/>
<line x1="660.5" y1="700.80" x2="1198.5" y2="700.80" class="g"/>
<line x1="660.5" y1="653.36" x2="1198.5" y2="653.36" class="g"/>
<line x1="660.5" y1="605.92" x2="1198.5" y2="605.92" class="g"/>
<line x1="660.5" y1="558.48" x2="1198.5" y2="558.48" class="g"/>
<line x1="660.5" y1="511.04" x2="1198.5" y2="511.04" class="g"/>
<line x1="660.5" y1="463.60" x2="1198.5" y2="463.60" class="g"/>
<polyline points="689.5,476.3 694.8,477.6 697.2,479.5 700.5,479.5 704.9,470.5 709.2,466.1 713.6,473.8 717.7,487.4 721.0,494.6 725.1,510.4 729.2,511.1 733.3,526.3 737.4,530.1 739.1,553.4 741.1,574.7 745.3,592.5 747.5,618.8 749.4,636.2 753.1,726.6 756.9,724.2 761.0,717.3 765.3,709.7 769.1,694.2 773.8,694.7 777.5,699.4 781.6,696.8 786.0,696.6 789.7,694.2 794.4,691.9 797.8,672.8 801.9,690.1 806.0,686.3 809.8,696.6 813.7,651.2 817.8,699.4 821.6,641.3 825.9,632.5 830.0,635.3 841.3,635.7 846.0,637.2 850.3,630.4 854.0,638.5 858.2,639.0 861.9,640.9 866.6,646.9 870.7,650.3 875.1,652.9 884.4,654.8 886.3,655.4 890.1,679.2 894.2,680.3 898.2,655.8 902.3,653.5 908.1,655.5 914.6,656.3 918.7,668.6 924.5,658.8 930.7,651.4 934.6,656.3 938.4,656.8 942.5,663.7 948.3,664.5 954.0,665.0 958.9,663.7 963.9,663.4 970.4,663.7 975.0,629.2 978.6,662.9 983.5,663.7 991.4,664.5 998.3,666.2 1002.9,638.3 1006.5,641.5 1011.1,677.7 1014.7,648.9 1018.8,651.4 1022.9,677.5 1031.3,677.7 1041.1,676.3 1050.9,676.8 1059.4,674.9 1069.2,675.6 1081.9,676.3 1086.8,683.4 1091.0,677.0 1095.9,682.0 1101.6,683.4 1111.4,681.3 1119.0,678.4 1122.8,640.0 1127.4,631.7 1132.0,632.1 1134.3,661.4 1138.8,668.2 1144.2,670.2 1153.3,669.0 1160.9,669.0 1171.6,669.0 1180.0,667.8" fill="none" stroke="#348ABD" stroke-width="2.2" stroke-linejoin="round" stroke-linecap="round"/>
<circle cx="689.5" cy="476.3" r="3.75" fill="#348ABD" stroke="#fff" stroke-width="1"/>
<circle cx="749.4" cy="636.2" r="3.75" fill="#348ABD" stroke="#fff" stroke-width="1"/>
<circle cx="809.8" cy="696.6" r="3.75" fill="#348ABD" stroke="#fff" stroke-width="1"/>
<circle cx="870.7" cy="650.3" r="3.75" fill="#348ABD" stroke="#fff" stroke-width="1"/>
<circle cx="930.7" cy="651.4" r="3.75" fill="#348ABD" stroke="#fff" stroke-width="1"/>
<circle cx="991.4" cy="664.5" r="3.75" fill="#348ABD" stroke="#fff" stroke-width="1"/>
<circle cx="1050.9" cy="676.8" r="3.75" fill="#348ABD" stroke="#fff" stroke-width="1"/>
<circle cx="1111.4" cy="681.3" r="3.75" fill="#348ABD" stroke="#fff" stroke-width="1"/>
<circle cx="1171.6" cy="669.0" r="3.75" fill="#348ABD" stroke="#fff" stroke-width="1"/>
<polyline points="824.6,712.5 825.8,706.7 828.3,700.4 832.1,700.4 835.8,728.3 840.0,727.3 844.2,726.5 847.9,732.1 855.8,732.3 860.0,729.6 863.3,727.9 868.8,725.0 873.3,722.5 876.3,717.1 879.6,719.6 884.2,719.8 888.3,711.7 892.5,711.7 895.8,705.8 900.8,700.4 906.4,697.3 913.3,692.4 919.5,685.9 924.5,679.3 928.6,677.7 932.7,671.9 937.6,667.0 944.2,662.9 949.9,662.1 953.2,662.1 957.3,669.4 963.9,667.0 972.1,664.5 978.6,661.2 985.2,659.6 988.5,646.5 995.0,644.8 1001.3,645.6 1008.2,645.6 1018.0,646.0 1032.7,648.6 1046.0,649.2 1059.4,651.7 1070.6,653.4 1080.5,653.8 1089.6,655.7 1098.8,656.7 1110.7,655.3 1118.3,655.0 1124.4,656.8 1128.9,659.8 1133.8,665.2 1138.8,659.8 1145.7,653.0 1153.3,651.5 1160.9,650.0 1167.0,649.2 1179.2,650.7" fill="none" stroke="#A60628" stroke-width="2.2" stroke-linejoin="round" stroke-linecap="round"/>
<rect x="820.6" y="708.5" width="7.9" height="7.9" fill="#A60628" stroke="#fff" stroke-width="1"/>
<rect x="864.8" y="721.0" width="7.9" height="7.9" fill="#A60628" stroke="#fff" stroke-width="1"/>
<rect x="909.3" y="688.4" width="7.9" height="7.9" fill="#A60628" stroke="#fff" stroke-width="1"/>
<rect x="953.3" y="665.4" width="7.9" height="7.9" fill="#A60628" stroke="#fff" stroke-width="1"/>
<rect x="997.3" y="641.6" width="7.9" height="7.9" fill="#A60628" stroke="#fff" stroke-width="1"/>
<rect x="1042.0" y="645.2" width="7.9" height="7.9" fill="#A60628" stroke="#fff" stroke-width="1"/>
<rect x="1085.6" y="651.8" width="7.9" height="7.9" fill="#A60628" stroke="#fff" stroke-width="1"/>
<rect x="1129.8" y="661.2" width="7.9" height="7.9" fill="#A60628" stroke="#fff" stroke-width="1"/>
<rect x="1175.2" y="646.8" width="7.9" height="7.9" fill="#A60628" stroke="#fff" stroke-width="1"/>
<polyline points="1011.0,558.7 1012.8,573.1 1015.4,590.7 1016.4,595.6 1022.9,605.4 1030.5,598.3 1035.5,608.1 1039.7,608.8 1043.9,610.9 1046.7,613.1 1050.9,603.2 1055.2,608.8 1059.4,615.9 1065.0,619.1 1070.6,621.9 1073.2,624.3 1075.6,628.5 1079.1,632.0 1083.3,617.3 1087.5,625.7 1091.7,629.2 1095.2,634.1 1099.5,639.8 1104.4,637.0 1107.5,640.2 1112.2,643.9 1116.8,644.6 1122.8,649.2 1130.5,650.0 1138.1,650.7 1141.9,652.2 1147.2,655.3 1154.8,657.6 1164.0,658.0 1171.6,658.0 1179.9,658.0" fill="none" stroke="#7A68A6" stroke-width="2.2" stroke-linejoin="round" stroke-linecap="round"/>
<polygon points="1011.0,553.2 1014.4,558.7 1011.0,564.2 1007.6,558.7" fill="#7A68A6" stroke="#fff" stroke-width="1"/>
<polygon points="1043.9,605.4 1047.3,610.9 1043.9,616.4 1040.5,610.9" fill="#7A68A6" stroke="#fff" stroke-width="1"/>
<polygon points="1075.6,623.0 1079.0,628.5 1075.6,634.0 1072.2,628.5" fill="#7A68A6" stroke="#fff" stroke-width="1"/>
<polygon points="1107.5,634.7 1110.9,640.2 1107.5,645.7 1104.1,640.2" fill="#7A68A6" stroke="#fff" stroke-width="1"/>
<polygon points="1139.5,645.7 1142.9,651.2 1139.5,656.7 1136.1,651.2" fill="#7A68A6" stroke="#fff" stroke-width="1"/>
<polygon points="1171.6,652.5 1175.0,658.0 1171.6,663.5 1168.2,658.0" fill="#7A68A6" stroke="#fff" stroke-width="1"/>
<polyline points="936.8,717.9 940.1,692.4 944.2,693.6 948.3,688.3 951.5,662.9 955.6,654.7 960.6,653.0 964.7,645.6 968.8,646.0 972.9,643.2 976.2,643.2 979.9,636.6 981.1,600.0 984.3,525.6 987.3,502.8 992.0,481.3 996.0,479.0 1000.4,476.7 1004.0,460.9 1008.4,458.4 1011.9,600.0 1012.3,636.6 1016.4,638.3 1018.0,600.0 1020.3,466.2 1024.2,466.7 1029.5,471.1 1033.0,476.0 1035.6,600.0 1036.6,649.6 1041.1,652.4 1047.4,653.8 1052.3,651.7 1057.3,646.1 1062.2,645.4 1065.0,645.4 1068.5,645.4 1072.7,644.7 1076.3,633.4 1080.5,635.6 1086.1,637.7 1091.7,641.2 1097.4,646.1 1104.4,648.9 1109.1,650.0 1116.8,652.2 1122.8,650.0 1129.7,644.6 1136.5,639.3 1142.6,637.0 1151.8,635.8 1157.9,638.5 1161.7,648.4 1167.0,645.4 1174.6,642.8 1181.5,641.9" fill="none" stroke="#467821" stroke-width="2.2" stroke-linejoin="round" stroke-linecap="round"/>
<polygon points="936.8,713.1 941.4,722.2 932.2,722.2" fill="#467821" stroke="#fff" stroke-width="1"/>
<polygon points="968.8,641.2 973.4,650.3 964.2,650.3" fill="#467821" stroke="#fff" stroke-width="1"/>
<polygon points="1000.4,471.9 1005.0,481.0 995.8,481.0" fill="#467821" stroke="#fff" stroke-width="1"/>
<polygon points="1033.0,471.2 1037.6,480.3 1028.4,480.3" fill="#467821" stroke="#fff" stroke-width="1"/>
<polygon points="1065.0,640.6 1069.6,649.7 1060.4,649.7" fill="#467821" stroke="#fff" stroke-width="1"/>
<polygon points="1097.4,641.3 1102.0,650.4 1092.8,650.4" fill="#467821" stroke="#fff" stroke-width="1"/>
<polygon points="1129.7,639.8 1134.3,648.9 1125.1,648.9" fill="#467821" stroke="#fff" stroke-width="1"/>
<polygon points="1161.7,643.6 1166.3,652.7 1157.1,652.7" fill="#467821" stroke="#fff" stroke-width="1"/>
<polyline points="1072.0,656.7 1076.3,658.1 1080.5,646.1 1084.0,642.6 1088.2,646.8 1091.7,651.7 1097.4,655.2 1104.1,658.2 1110.7,653.4 1115.2,658.3 1124.1,604.3 1128.2,663.6 1132.0,665.2 1136.5,611.1 1141.1,659.8 1144.9,659.1 1148.4,601.2 1152.5,598.9 1156.3,596.2 1160.1,598.2 1164.0,598.2 1168.5,592.1 1173.1,590.6 1180.7,586.8" fill="none" stroke="#D55E00" stroke-width="2.2" stroke-linejoin="round" stroke-linecap="round"/>
<polygon points="1072.0,661.5 1076.6,652.4 1067.4,652.4" fill="#D55E00" stroke="#fff" stroke-width="1"/>
<polygon points="1104.1,663.0 1108.7,653.9 1099.5,653.9" fill="#D55E00" stroke="#fff" stroke-width="1"/>
<polygon points="1136.5,615.9 1141.1,606.8 1131.9,606.8" fill="#D55E00" stroke="#fff" stroke-width="1"/>
<polygon points="1168.5,596.9 1173.1,587.8 1163.9,587.8" fill="#D55E00" stroke="#fff" stroke-width="1"/>
<rect x="660.5" y="445" width="538.00" height="301.00" fill="none" stroke="#cccccc" stroke-width="1.7"/>
<text x="656.30" y="705.50" text-anchor="end" class="t" textLength="18.92" lengthAdjust="spacingAndGlyphs">2.0</text>
<text x="656.30" y="658.06" text-anchor="end" class="t" textLength="18.92" lengthAdjust="spacingAndGlyphs">2.5</text>
<text x="656.30" y="610.62" text-anchor="end" class="t" textLength="18.92" lengthAdjust="spacingAndGlyphs">3.0</text>
<text x="656.30" y="563.18" text-anchor="end" class="t" textLength="18.92" lengthAdjust="spacingAndGlyphs">3.5</text>
<text x="656.30" y="515.74" text-anchor="end" class="t" textLength="18.92" lengthAdjust="spacingAndGlyphs">4.0</text>
<text x="656.30" y="468.30" text-anchor="end" class="t" textLength="18.92" lengthAdjust="spacingAndGlyphs">4.5</text>
<text x="687.50" y="768.36" text-anchor="middle" class="xt" textLength="29.01" lengthAdjust="spacingAndGlyphs" transform="rotate(-45 687.50 764.20)">2009</text>
<text x="736.37" y="768.36" text-anchor="middle" class="xt" textLength="29.01" lengthAdjust="spacingAndGlyphs" transform="rotate(-45 736.37 764.20)">2010</text>
<text x="785.25" y="768.36" text-anchor="middle" class="xt" textLength="29.01" lengthAdjust="spacingAndGlyphs" transform="rotate(-45 785.25 764.20)">2011</text>
<text x="834.12" y="768.36" text-anchor="middle" class="xt" textLength="29.01" lengthAdjust="spacingAndGlyphs" transform="rotate(-45 834.12 764.20)">2012</text>
<text x="883.13" y="768.36" text-anchor="middle" class="xt" textLength="29.01" lengthAdjust="spacingAndGlyphs" transform="rotate(-45 883.13 764.20)">2013</text>
<text x="932.00" y="768.36" text-anchor="middle" class="xt" textLength="29.01" lengthAdjust="spacingAndGlyphs" transform="rotate(-45 932.00 764.20)">2014</text>
<text x="980.87" y="768.36" text-anchor="middle" class="xt" textLength="29.01" lengthAdjust="spacingAndGlyphs" transform="rotate(-45 980.87 764.20)">2015</text>
<text x="1029.75" y="768.36" text-anchor="middle" class="xt" textLength="29.01" lengthAdjust="spacingAndGlyphs" transform="rotate(-45 1029.75 764.20)">2016</text>
<text x="1078.75" y="768.36" text-anchor="middle" class="xt" textLength="29.01" lengthAdjust="spacingAndGlyphs" transform="rotate(-45 1078.75 764.20)">2017</text>
<text x="1127.63" y="768.36" text-anchor="middle" class="xt" textLength="29.01" lengthAdjust="spacingAndGlyphs" transform="rotate(-45 1127.63 764.20)">2018</text>
<text x="1176.50" y="768.36" text-anchor="middle" class="xt" textLength="29.01" lengthAdjust="spacingAndGlyphs" transform="rotate(-45 1176.50 764.20)">2019</text>
<text x="929.75" y="794.00" text-anchor="middle" class="l" textLength="36.45" lengthAdjust="spacingAndGlyphs">Date</text>
<text x="630.30" y="596.45" text-anchor="middle" class="l" textLength="250.89" lengthAdjust="spacingAndGlyphs" transform="rotate(-90 630.30 596.45)">Alpha Degree Total (Cumulative)</text>
<rect x="1094.6" y="451.6" width="98.0" height="88.3" rx="1.8" fill="#ffffff" fill-opacity="0.8" stroke="#e6e6e6" stroke-width="0.9"/>
<line x1="1098.0" y1="460.4" x2="1123.0" y2="460.4" stroke="#348ABD" stroke-width="2.2" stroke-linecap="round"/>
<circle cx="1110.7" cy="460.4" r="3.75" fill="#348ABD" stroke="#fff" stroke-width="1"/>
<text x="1131.80" y="464.00" text-anchor="start" class="lg" textLength="39.92" lengthAdjust="spacingAndGlyphs">Bitcoin</text>
<line x1="1098.0" y1="477.6" x2="1123.0" y2="477.6" stroke="#A60628" stroke-width="2.2" stroke-linecap="round"/>
<rect x="1106.7" y="473.7" width="7.9" height="7.9" fill="#A60628" stroke="#fff" stroke-width="1"/>
<text x="1131.80" y="481.20" text-anchor="start" class="lg" textLength="45.58" lengthAdjust="spacingAndGlyphs">Litecoin</text>
<line x1="1098.0" y1="494.8" x2="1123.0" y2="494.8" stroke="#7A68A6" stroke-width="2.2" stroke-linecap="round"/>
<polygon points="1110.7,489.3 1114.1,494.8 1110.7,500.3 1107.3,494.8" fill="#7A68A6" stroke="#fff" stroke-width="1"/>
<text x="1131.80" y="498.40" text-anchor="start" class="lg" textLength="57.12" lengthAdjust="spacingAndGlyphs">Ethereum</text>
<line x1="1098.0" y1="512.0" x2="1123.0" y2="512.0" stroke="#467821" stroke-width="2.2" stroke-linecap="round"/>
<polygon points="1110.7,507.2 1115.3,516.3 1106.1,516.3" fill="#467821" stroke="#fff" stroke-width="1"/>
<text x="1131.80" y="515.60" text-anchor="start" class="lg" textLength="29.54" lengthAdjust="spacingAndGlyphs">Dash</text>
<line x1="1098.0" y1="529.2" x2="1123.0" y2="529.2" stroke="#D55E00" stroke-width="2.2" stroke-linecap="round"/>
<polygon points="1110.7,534.0 1115.3,524.9 1106.1,524.9" fill="#D55E00" stroke="#fff" stroke-width="1"/>
<text x="1131.80" y="532.80" text-anchor="start" class="lg" textLength="40.88" lengthAdjust="spacingAndGlyphs">Z-Cash</text>
<text x="890.52" y="845.76" class="c">(</text>
<text x="919.60" y="845.76" class="c">)</text>
<text transform="translate(910.70 845.76) scale(1.164 1)" text-anchor="middle" class="c" style="font-size:32.5px">d</text>
</svg>
</body></html>
